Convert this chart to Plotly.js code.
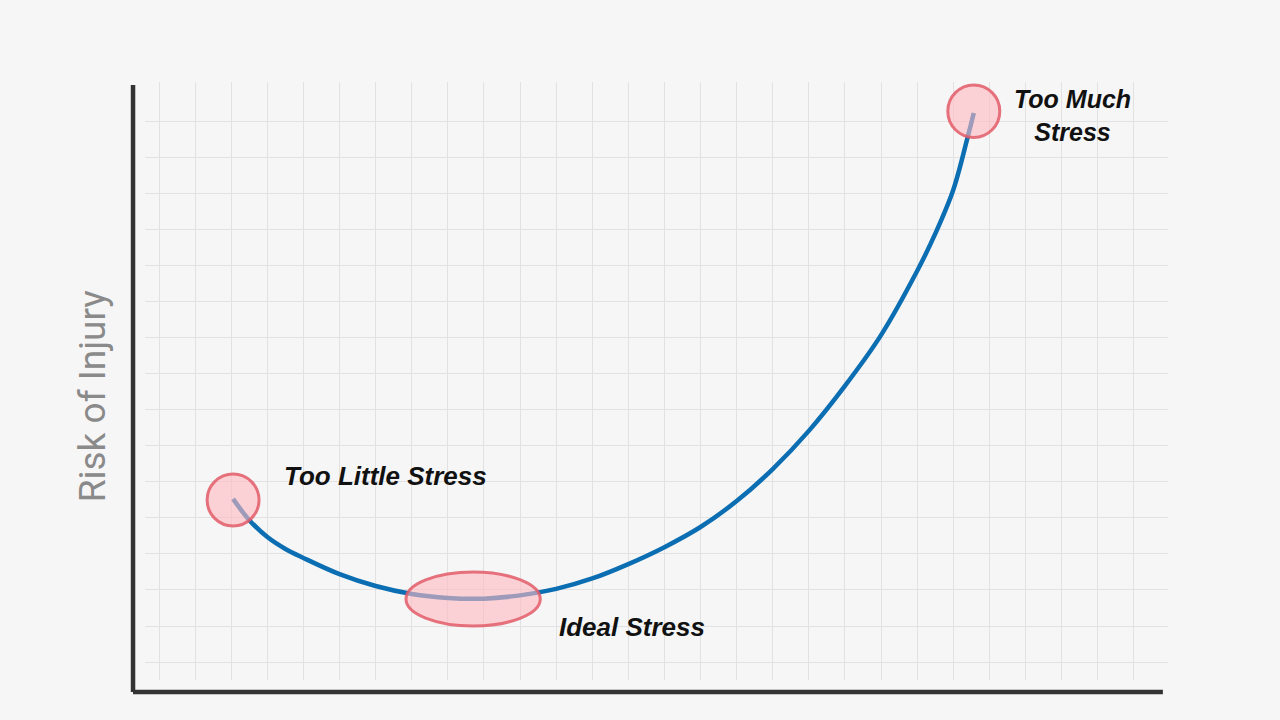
<!DOCTYPE html>
<html>
<head>
<meta charset="utf-8">
<script src="https://cdn.plot.ly/plotly-3.0.1.min.js"></script>
<style>
  html, body { margin: 0; padding: 0; background: #f6f6f6; }
  #chart { width: 1280px; height: 720px; }
</style>
</head>
<body>
<div id="chart"></div>
<script>
// Stress level (x) vs risk of injury (y), in grid units
const stress = [2.05, 2.5, 3, 3.5, 4, 5, 6, 7, 8, 9, 10, 11, 12, 13, 14, 15, 16, 17, 18, 19, 20, 21, 21.5, 22, 22.4, 22.57];
const risk   = [4.53, 3.94, 3.47, 3.14, 2.89, 2.44, 2.11, 1.89, 1.78, 1.76, 1.85, 2.03, 2.32, 2.72, 3.19, 3.75, 4.47, 5.36, 6.42, 7.67, 9.08, 10.86, 11.89, 13.11, 14.58, 15.25];

// Highlight zones: centre x, centre y, half-width, half-height
const zoneNames = ["Too Little Stress", "Ideal Stress", "Too Much<br>Stress"];
const zoneCx = [2.05, 8.70, 22.57];
const zoneCy = [4.50, 1.75, 15.30];
const zoneRx = [0.72, 1.86, 0.72];
const zoneRy = [0.72, 0.75, 0.73];
// Label anchors
const labelX = [3.41, 11.03, 25.31];
const labelY = [5.17, 0.97, 15.17];
const labelAnchor = ["left", "left", "center"];
const labelSize = [26, 26, 25];

const yTitle = "Risk of Injury";

const gridTicksX = Array.from({length: 28}, (_, i) => i);
const gridTicksY = Array.from({length: 16}, (_, i) => i);

const shapes = [];
for (let i = 0; i < zoneCx.length; i++) {
  shapes.push({
    type: 'circle', xref: 'x', yref: 'y', layer: 'above',
    x0: zoneCx[i] - zoneRx[i], x1: zoneCx[i] + zoneRx[i],
    y0: zoneCy[i] - zoneRy[i], y1: zoneCy[i] + zoneRy[i],
    fillcolor: 'rgba(255,185,192,0.6)',
    line: {color: 'rgba(226,92,104,0.85)', width: 3}
  });
}
// Hand-drawn style axes (outside the grid area)
shapes.push({type: 'line', xref: 'paper', yref: 'paper', x0: -0.0117, x1: -0.0117, y0: -0.0201, y1: 0.995,
  line: {color: '#333333', width: 4.5}});
shapes.push({type: 'line', xref: 'paper', yref: 'paper', x0: -0.0117, x1: 0.995, y0: -0.0201, y1: -0.0201,
  line: {color: '#333333', width: 4.5}});

const annotations = zoneNames.map((t, i) => ({
  x: labelX[i], y: labelY[i], xref: 'x', yref: 'y',
  text: t, showarrow: false, xanchor: labelAnchor[i], yanchor: 'middle',
  font: {family: 'Liberation Sans, Arial, sans-serif', size: labelSize[i], color: '#111111', weight: 'bold', style: 'italic'},
  align: 'center'
}));
annotations.push({
  x: -0.0505, y: 0.475, xref: 'paper', yref: 'paper', text: yTitle, showarrow: false,
  textangle: -90, xanchor: 'center', yanchor: 'middle',
  font: {family: 'Roboto, Arial, sans-serif', size: 37, color: '#8a8a8a'}
});

const data = [{
  x: stress, y: risk, type: 'scatter', mode: 'lines',
  line: {color: '#0b6db2', width: 4.5, shape: 'spline', smoothing: 1},
  hoverinfo: 'skip'
}];

const layout = {
  width: 1280, height: 720,
  paper_bgcolor: '#f6f6f6', plot_bgcolor: '#f6f6f6',
  margin: {l: 145, r: 112, t: 82, b: 40},
  showlegend: false,
  xaxis: {range: [-0.39, 27.95], tickvals: gridTicksX, showticklabels: false, ticks: '',
          showgrid: true, gridcolor: '#e2e2e2', gridwidth: 1, zeroline: false, showline: false, fixedrange: true},
  yaxis: {range: [-0.5, 16.11], tickvals: gridTicksY, showticklabels: false, ticks: '',
          showgrid: true, gridcolor: '#e2e2e2', gridwidth: 1, zeroline: false, showline: false, fixedrange: true},
  shapes: shapes,
  annotations: annotations
};

Plotly.newPlot('chart', data, layout, {staticPlot: true, displayModeBar: false});
</script>
</body>
</html>
